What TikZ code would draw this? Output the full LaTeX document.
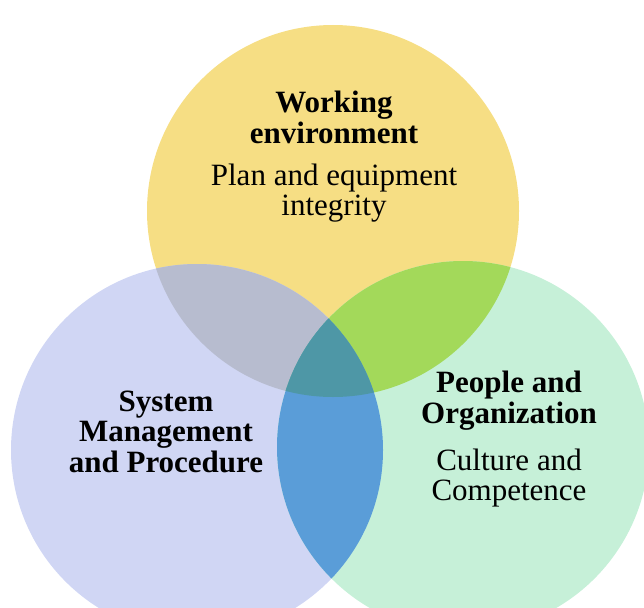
\documentclass[tikz,border=0pt]{standalone}
\usepackage{fontspec}
\setmainfont{Liberation Serif}
\usepackage{tikz}

\definecolor{workYellow}{HTML}{F6DE84}
\definecolor{sysBlue}{HTML}{D0D6F4}
\definecolor{peopleGreen}{HTML}{C6F0D8}
\definecolor{ybOverlap}{HTML}{B7BCCF}
\definecolor{ygOverlap}{HTML}{A3D95A}
\definecolor{bgOverlap}{HTML}{5A9DD8}
\definecolor{allOverlap}{HTML}{4E97A6}

\begin{document}
\begin{tikzpicture}[
			x=1pt, y=-1pt,
			head/.style={font=\fontsize{31}{30.5}\selectfont\bfseries, align=center, text=black},
			sub/.style={font=\fontsize{31}{29.5}\selectfont, align=center, text=black}
			]
			\useasboundingbox (0,0) rectangle (644,607);
			% circle centres
			\coordinate (cW) at (333,211);
			\coordinate (cS) at (197,450);
			\coordinate (cP) at (463,447);
			% circles
			\fill[workYellow] (cW) circle[radius=186pt];
			\fill[sysBlue] (cS) circle[radius=186pt];
			\fill[peopleGreen] (cP) circle[radius=186pt];
			% pairwise overlaps
			\begin{scope}
				\clip (cW) circle[radius=186pt];
				\fill[ybOverlap] (cS) circle[radius=186pt];
				\fill[ygOverlap] (cP) circle[radius=186pt];
			\end{scope}
			\begin{scope}
				\clip (cS) circle[radius=186pt];
				\fill[bgOverlap] (cP) circle[radius=186pt];
				\clip (cP) circle[radius=186pt];
				\fill[allOverlap] (cW) circle[radius=186pt];
			\end{scope}
			% labels (base = last line)
			\node[head, anchor=base] (workHead) at (334,143) {Working\\environment};
			\node[sub, anchor=base] (workSub) at (334,215) {Plan and equipment\\integrity};
			\node[head, anchor=base] (sysHead) at (166,472) {System\\Management\\and Procedure};
			\node[head, anchor=base] (peopleHead) at (509,423) {People and\\Organization};
			\node[sub, anchor=base] (peopleSub) at (509,500) {Culture and\\Competence};
		\end{tikzpicture}
\end{document}
